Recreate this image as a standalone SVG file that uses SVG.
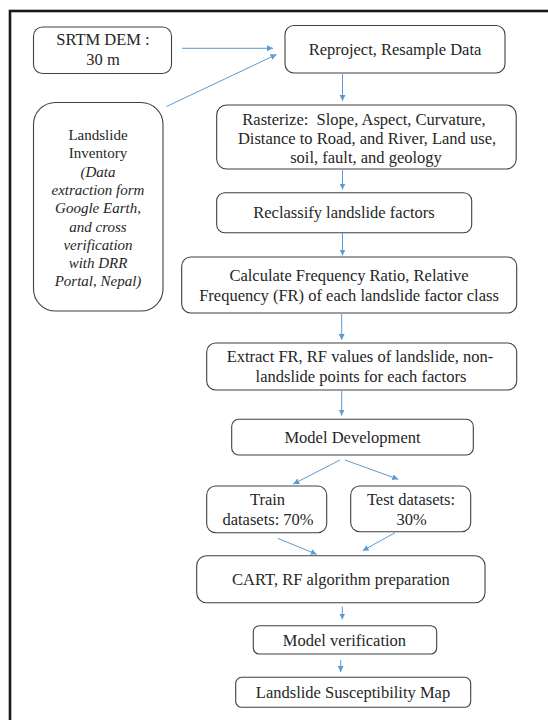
<svg xmlns="http://www.w3.org/2000/svg" width="548" height="720" viewBox="0 0 548 720">
<defs>
<marker id="ah" markerUnits="userSpaceOnUse" markerWidth="7" markerHeight="7" refX="6" refY="3" orient="auto">
<path d="M0,0 L6,3 L0,6 z" fill="#5b9bd5"/>
</marker>
<style>
.box{fill:#fff;stroke:#404040;stroke-width:1.1}
.t{font-family:"Liberation Serif","Times New Roman",serif;font-size:16.5px;fill:#262626;text-anchor:middle}
.s{font-size:15px}
.i{font-style:italic}
.c{fill:none;stroke:#5b9bd5;stroke-width:1;marker-end:url(#ah)}
.frame{fill:none;stroke:#1a1a1a;stroke-width:2.6}
</style>
</defs>
<rect width="548" height="720" fill="#fff"/>
<rect class="frame" x="10" y="11" width="560" height="740"/>

<g id="connectors">
<line class="c" x1="182" y1="48.3" x2="273" y2="48.3"/>
<line class="c" x1="166.5" y1="106.5" x2="276.5" y2="54.5"/>
<line class="c" x1="342.5" y1="74" x2="342.5" y2="101"/>
<line class="c" x1="342.5" y1="170" x2="342.5" y2="189.5"/>
<line class="c" x1="342.5" y1="233" x2="342.5" y2="255.5"/>
<line class="c" x1="341.7" y1="314" x2="341.7" y2="340"/>
<line class="c" x1="341.7" y1="391" x2="341.7" y2="415.5"/>
<line class="c" x1="340" y1="460" x2="293.3" y2="484"/>
<line class="c" x1="345" y1="460" x2="398.3" y2="479.3"/>
<line class="c" x1="277.7" y1="538.3" x2="316.7" y2="554.3"/>
<line class="c" x1="395" y1="532.7" x2="362.7" y2="550.7"/>
<line class="c" x1="342.3" y1="606.7" x2="342.3" y2="619.5"/>
<line class="c" x1="340.7" y1="660" x2="340.7" y2="672"/>
</g>

<g id="srtm">
<rect class="box" x="33.5" y="27" width="138" height="46.5" rx="9"/>
<text class="t" x="103" y="45">SRTM DEM :</text>
<text class="t" x="103" y="65">30 m</text>
</g>

<g id="reproject">
<rect class="box" x="285" y="25.5" width="220" height="47.5" rx="9"/>
<text class="t" x="395" y="55">Reproject, Resample Data</text>
</g>

<g id="inventory">
<rect class="box" x="33.5" y="102.5" width="129.5" height="208.5" rx="22"/>
<text class="t s" x="98" y="140">Landslide</text>
<text class="t s" x="98" y="158.3">Inventory</text>
<text class="t s i" x="98" y="176.6">(Data</text>
<text class="t s i" x="98" y="194.9">extraction form</text>
<text class="t s i" x="98" y="213.2">Google Earth,</text>
<text class="t s i" x="98" y="231.5">and cross</text>
<text class="t s i" x="98" y="249.8">verification</text>
<text class="t s i" x="98" y="268.1">with DRR</text>
<text class="t s i" x="98" y="286.4">Portal, Nepal)</text>
</g>

<g id="rasterize">
<rect class="box" x="216.7" y="105" width="299.5" height="64" rx="10"/>
<text class="t" x="364" y="124.5" style="white-space:pre">Rasterize:  Slope, Aspect, Curvature,</text>
<text class="t" x="367" y="143.5">Distance to Road, and River, Land use,</text>
<text class="t" x="366" y="162.5">soil, fault, and geology</text>
</g>

<g id="reclassify">
<rect class="box" x="216.7" y="192.7" width="255" height="40" rx="8"/>
<text class="t" x="344" y="218">Reclassify landslide factors</text>
</g>

<g id="calculate">
<rect class="box" x="181.7" y="257" width="335" height="56" rx="9"/>
<text class="t" x="349" y="280.5">Calculate Frequency Ratio, Relative</text>
<text class="t" x="349" y="300.5">Frequency (FR) of each landslide factor class</text>
</g>

<g id="extract">
<rect class="box" x="206.7" y="343" width="310" height="47" rx="9"/>
<text class="t" x="360" y="362">Extract FR, RF values of landslide, non-</text>
<text class="t" x="361" y="382">landslide points for each factors</text>
</g>

<g id="model-dev">
<rect class="box" x="231.7" y="419.3" width="241.6" height="35.7" rx="7"/>
<text class="t" x="352.5" y="442.5">Model Development</text>
</g>

<g id="train">
<rect class="box" x="206.7" y="486" width="120" height="46.7" rx="9"/>
<text class="t" x="267.5" y="505">Train</text>
<text class="t" x="268" y="525">datasets: 70%</text>
</g>

<g id="test">
<rect class="box" x="350.7" y="486" width="120" height="45.7" rx="9"/>
<text class="t" x="411" y="505">Test datasets:</text>
<text class="t" x="411.5" y="525">30%</text>
</g>

<g id="cart">
<rect class="box" x="196.7" y="555.7" width="288.3" height="47" rx="10"/>
<text class="t" x="341" y="585">CART, RF algorithm preparation</text>
</g>

<g id="verification">
<rect class="box" x="253.3" y="625.7" width="183.4" height="28.3" rx="6"/>
<text class="t" x="344.5" y="645.5">Model verification</text>
</g>

<g id="lsm">
<rect class="box" x="235.7" y="677.3" width="235" height="30" rx="6"/>
<text class="t" x="353" y="697.5">Landslide Susceptibility Map</text>
</g>
</svg>
